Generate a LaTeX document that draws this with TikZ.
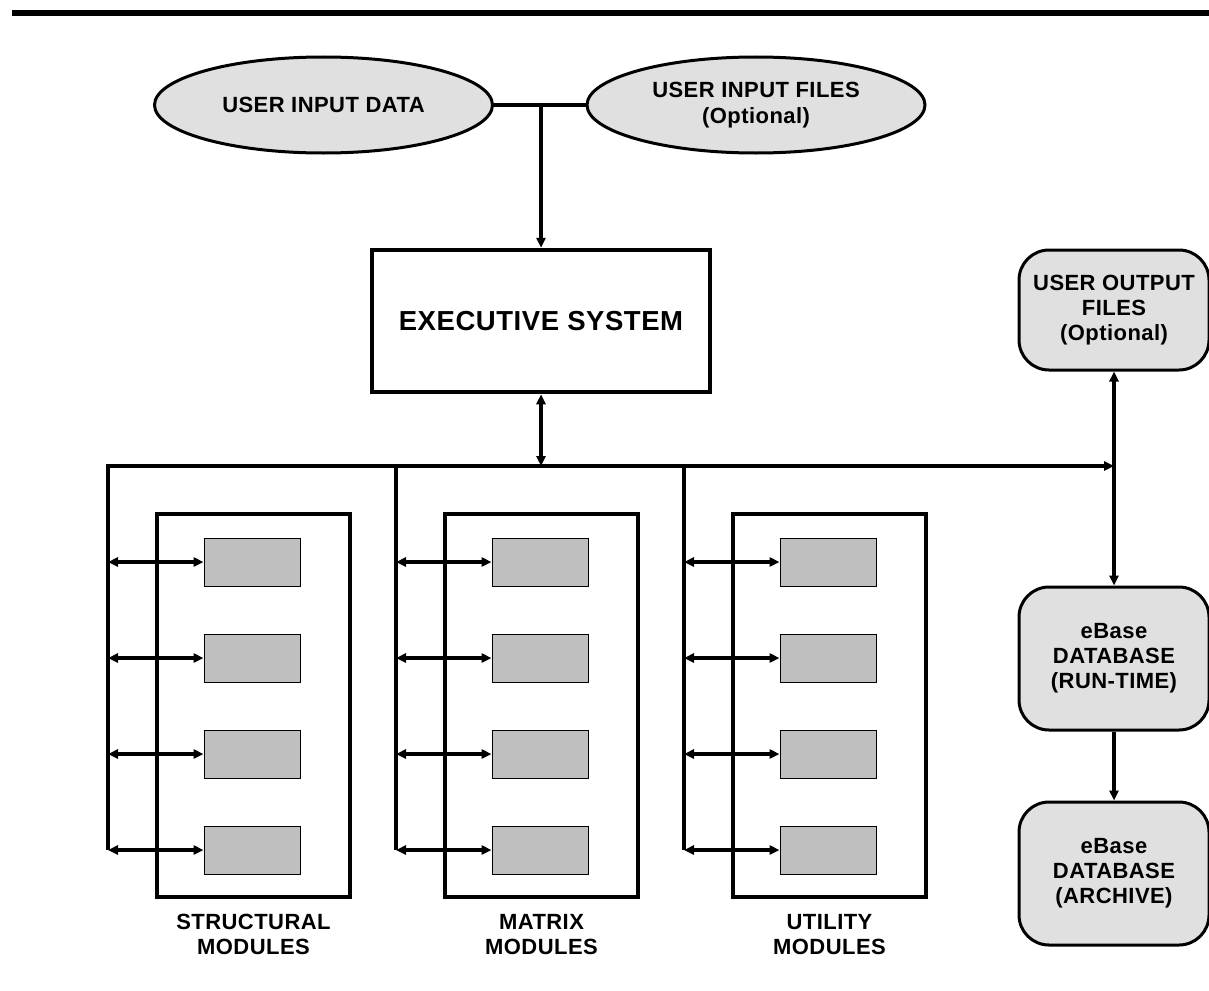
\documentclass[tikz,border=0pt]{standalone}
\usepackage{fontspec}
\setmainfont[LetterSpace=2]{Liberation Sans}
\usetikzlibrary{shapes.geometric,arrows.meta}
\begin{document}
\begin{tikzpicture}[x=1pt,y=-1pt,
  >={Triangle[length=10pt,width=9pt]},
  conn/.style={line width=3.5pt},
  oval/.style={ellipse,draw,line width=3pt,fill=black!12,inner sep=0pt,
    minimum width=338pt,minimum height=96pt,align=center,
    font=\fontsize{22}{26}\selectfont\bfseries},
  execbox/.style={rectangle,draw,line width=4.5pt,fill=white,inner sep=0pt,
    minimum width=338pt,minimum height=142pt,
    font=\fontsize{27.5}{30}\selectfont\bfseries},
  store/.style={rectangle,draw,rounded corners=30pt,line width=3pt,fill=black!12,
    inner sep=0pt,minimum width=190pt,align=center,
    font=\fontsize{22}{25}\selectfont\bfseries},
  frame/.style={rectangle,draw,line width=4pt,inner sep=0pt,
    minimum width=193pt,minimum height=383pt},
  module/.style={rectangle,draw,line width=1pt,fill=black!25,inner sep=0pt,
    minimum width=96pt,minimum height=48pt},
  caption/.style={align=center,font=\fontsize{22}{25}\selectfont\bfseries}]

\useasboundingbox (0,0) rectangle (1209,990);

% heading rule
\fill (12,10) rectangle (1209,16);

% inputs and executive
\node[oval] (uid) at (323.5,105) {USER INPUT DATA};
\node[oval] (uif) at (756,105) {USER INPUT FILES\\(Optional)};
\node[execbox] (exec) at (541,321) {EXECUTIVE SYSTEM};

\draw[conn] (uid.east) -- (uif.west);
\coordinate (join) at (541,105);
\draw[conn,->] (join) -- (exec.north);

% data stores on the right
\node[store,minimum height=120pt] (uof) at (1114,310) {USER OUTPUT\\FILES\\(Optional)};
\node[store,minimum height=143pt] (rt) at (1114,658.5) {eBase\\DATABASE\\(RUN-TIME)};
\node[store,minimum height=143pt] (arc) at (1114,873.5) {eBase\\DATABASE\\(ARCHIVE)};

% main bus
\coordinate (busL) at (108,466);
\coordinate (busE) at (541,466);
\coordinate (busR) at (1114,466);
\coordinate (busB) at (108,850);
\draw[conn,->] (busB) -- (busL) -- (busR);
\draw[conn,<->] (exec.south) -- (busE);
\draw[conn,<->] (uof.south) -- (rt.north);
\draw[conn,->] (rt.south) -- (arc.north);

% module groups
\foreach \c/\fx/\bx/\vx/\txt in {1/253.5/252/108/{STRUCTURAL\\MODULES},
                                 2/541.5/540/396/{MATRIX\\MODULES},
                                 3/829.5/828/684/{UTILITY\\MODULES}} {
  \node[frame] (f\c) at (\fx,705.5) {};
  \node[caption] (cap\c) at (\fx,934.5) {\txt};
  \coordinate (top\c) at (\vx,466);
  \coordinate (bot\c) at (\vx,850);
  \ifnum\c>1 \draw[conn] (top\c) -- (bot\c); \fi
  \foreach \r/\y in {1/562,2/658,3/754,4/850} {
    \node[module] (m\c\r) at (\bx,\y) {};
    \coordinate (tap\c\r) at (\vx,\y);
    \draw[conn,<->] (tap\c\r) -- (m\c\r.west);
  }
}
\end{tikzpicture}
\end{document}
